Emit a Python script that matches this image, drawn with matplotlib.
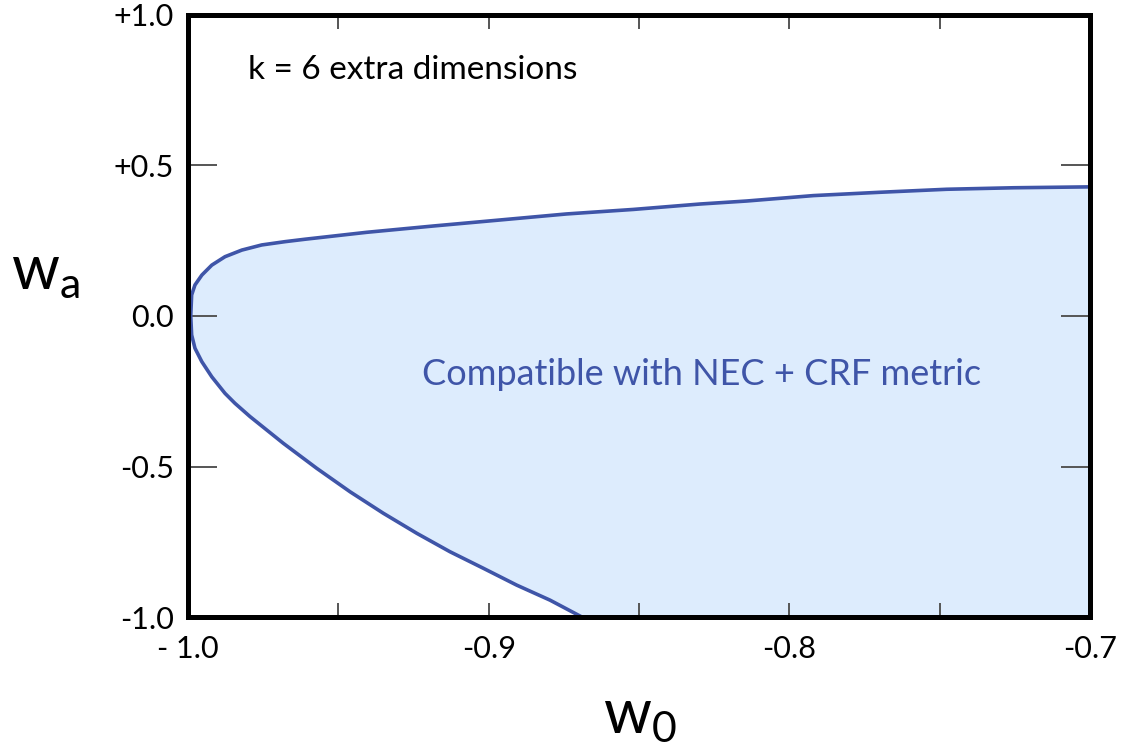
import matplotlib
matplotlib.use("Agg")
import matplotlib.pyplot as plt
from matplotlib.ticker import MultipleLocator

plt.rcParams['font.family'] = ['Lato', 'DejaVu Sans']
plt.rcParams['mathtext.fontset'] = 'custom'
plt.rcParams['mathtext.rm'] = 'Lato'
plt.rcParams['mathtext.it'] = 'Lato'

# boundary of the allowed region
upper_w0 = [-0.9991, -0.9988, -0.9977, -0.9954, -0.9921, -0.9877, -0.9821, -0.9755, -0.9677,
            -0.9611, -0.9406, -0.9184, -0.8962, -0.8741, -0.8519, -0.8297, -0.8142, -0.7920,
            -0.7699, -0.7477, -0.7255, -0.700]
upper_wa = [0.0, 0.070, 0.103, 0.136, 0.169, 0.197, 0.219, 0.236, 0.247,
            0.255, 0.278, 0.299, 0.319, 0.339, 0.354, 0.372, 0.382, 0.400,
            0.411, 0.421, 0.426, 0.429]
lower_w0 = [-0.9991, -0.9988, -0.9977, -0.9954, -0.9921, -0.9877, -0.9844, -0.9794, -0.9683,
            -0.9572, -0.9461, -0.9351, -0.9239, -0.9129, -0.9018, -0.8907, -0.8796, -0.8690]
lower_wa = [0.0, -0.063, -0.107, -0.152, -0.202, -0.257, -0.290, -0.334, -0.423,
            -0.506, -0.584, -0.655, -0.722, -0.783, -0.838, -0.894, -0.944, -1.0]

xticks = [-1.0, -0.9, -0.8, -0.7]
xticklabels = ['- 1.0', '-0.9', '-0.8', '-0.7']
yticks = [-1.0, -0.5, 0.0, 0.5, 1.0]
yticklabels = ['-1.0', '-0.5', '0.0', '+0.5', '+1.0']

line_col = '#3f55a8'
fill_col = '#ddecfd'

fig = plt.figure(figsize=(11.3, 7.53), dpi=100)
ax = fig.add_axes([0.1664, 0.1806, 0.7982, 0.7995])

# closed outline: lower branch back to the vertex, then upper branch, then down the right edge
curve_x = lower_w0[::-1] + upper_w0[1:]
curve_y = lower_wa[::-1] + upper_wa[1:]
ax.fill(curve_x + [-0.7], curve_y + [-1.0], color=fill_col, lw=0, zorder=1)
ax.plot(curve_x, curve_y, color=line_col, lw=2.6, zorder=2, solid_joinstyle='round')

ax.set_xlim(-1.0, -0.7)
ax.set_ylim(-1.0, 1.0)
ax.set_xticks(xticks)
ax.set_xticklabels(xticklabels)
ax.xaxis.set_minor_locator(MultipleLocator(0.05))
ax.set_yticks(yticks)
ax.set_yticklabels(yticklabels)

ax.tick_params(which='both', direction='in', top=True, right=True, color='#555555', width=1.4)
ax.tick_params(axis='x', which='both', length=10, labelsize=22, pad=13)
ax.tick_params(axis='y', which='major', length=21, labelsize=22, pad=10)
for s in ax.spines.values():
    s.set_linewidth(3.6)
    s.set_zorder(5)

ax.text(0.067, 0.909, 'k = 6 extra dimensions', transform=ax.transAxes,
        fontsize=24, ha='left', va='center')
ax.text(0.569, 0.402, 'Compatible with NEC + CRF metric', transform=ax.transAxes,
        fontsize=26, color=line_col, ha='center', va='center')

fig.text(0.04, 0.64, r'$\mathrm{w_a}$', fontsize=44, ha='center', va='center')
fig.text(0.566, 0.05, r'$\mathrm{w_0}$', fontsize=44, ha='center', va='center')

fig.savefig('out.png', dpi=100)
